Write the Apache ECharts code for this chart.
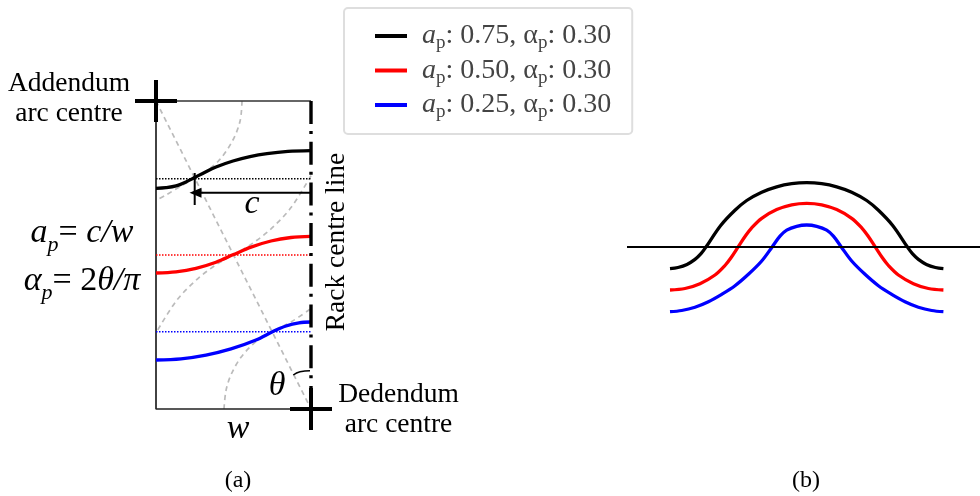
<!DOCTYPE html>
<html><head><meta charset="utf-8">
<style>html,body{margin:0;background:#fff}#c{width:980px;height:496px}</style>
<script src="https://cdn.jsdelivr.net/npm/echarts@6/dist/echarts.min.js"></script>
</head><body><div id="c"></div>
<script>
const amplitudes = ['0.75','0.50','0.25'];
const alphas = ['0.30','0.30','0.30'];
const colors = ['#000000','#ff0000','#0000ff'];
const names = amplitudes.map((a,i)=>'ap: '+a+', αp: '+alphas[i]);

// Panel (a): tooth flank quarter, width 155 x height 308
const flankBlack = [[0,220.7],[10,221.4],[20,223.1],[30,227.1],[39,231.7],[49,236.8],[60,242],[77,248],[94,252.4],[111,255.4],[132,257.6],[155,258.4]];
const flankRed = [[0,136],[20,137.2],[40,140.7],[60,146.8],[77.5,154.4],[95,161.9],[115,168],[135,171.5],[155,172.7]];
const flankBlue = [[0,49],[25,50.2],[50,53.9],[75,60.1],[100,69],[117,77.5],[130,83],[143,86.2],[155,87]];
const pitchLevels = [230.3,154,77.3];
const arcTop = [[86,308],[84.1,288],[76.4,268],[62.4,248],[43,233],[33,228]];
const arcTopTail = [[39,231],[25,223],[10,214],[0,208.5]];
const arcMid = [[155,233.4],[135,201.4],[115,180.1],[95,164.6],[77.5,154.4],[60,144.2],[40,128.8],[20,107.7],[0,76.1]];
const arcLow = [[68,0],[70,18.5],[75,34.2],[85,51.7],[100,67.4],[115,77],[135,87],[155,100.5]];
const diagonal = [[0,308],[155,0]];
const boxEdges = [[0,308],[155,308]];
const boxLeft = [[0,308],[0,0],[155,0]];
const centreLine = [[155,308],[155,0]];
const crossA = [[[-21,308],[21,308]],[[0,329],[0,287]]];
const crossB = [[[134,0],[176,0]],[[155,21],[155,-21]]];
const dimArrow = [[155,216.3],[39.5,216.3]];
const dimTick = [[38.7,236],[38.7,204]];
const thetaArc = [[137.3,34],[144,37.3],[154,38.3]];

// Panel (b): full profile, width 353 x height 160
const profileBlack = [[43,61.3],[51,62.5],[60,65.6],[68,70.6],[74,76.3],[79,83],[93.7,104.5],[107.7,119.5],[119.7,129.5],[134.7,137.8],[149.7,143.2],[164.7,146.3],[179.7,147.3],
  [194.7,146.3],[209.7,143.2],[224.7,137.8],[239.7,129.5],[251.7,119.5],[265.7,104.5],[280.4,83],[285.4,76.3],[291.4,70.6],[299.4,65.6],[308.4,62.5],[316.4,61.3]];
const profileRed = [[43,40],[58,41.5],[73,46.3],[88,55],[98,64.5],[104,72.2],[111.35,83.35],[118.7,94.5],[124.7,102.2],[134.7,111.7],[149.7,120.4],[164.7,125.2],[179.7,126.7],
  [194.7,125.2],[209.7,120.4],[224.7,111.7],[234.7,102.2],[240.7,94.5],[248.05,83.35],[255.4,72.2],[261.4,64.5],[271.4,55],[286.4,46.3],[301.4,41.5],[316.4,40]];
const profileBlue = [[43,18.3],[54.7,19.5],[68,22.8],[81.4,28.3],[94.7,35.7],[108,44.3],[121.4,55.7],[134.7,69],[145.3,83.3],[153,93.8],[159.7,99.8],[169.7,103.7],[179.7,105],
  [189.7,103.7],[199.7,99.8],[206.4,93.8],[214.1,83.3],[224.7,69],[238,55.7],[251.4,44.3],[264.7,35.7],[278,28.3],[291.4,22.8],[304.7,19.5],[316.4,18.3]];
const pitchB = [[0,83],[353,83]];

const SERIF = '"Liberation Serif","Times New Roman",serif';
const SM = 0.33;
const line = (name,data,o={}) => Object.assign({
  type:'line',name,data,xAxisIndex:0,yAxisIndex:0,symbol:'none',clip:false,silent:true,
  animation:false,showSymbol:false,
  lineStyle:{color:o.color||'#000',width:o.width||2,type:o.dash||'solid',cap:o.cap||'butt'},
  itemStyle:{color:o.color||'#000'},smooth:o.smooth||false,z:o.z||2
},o.idx?{xAxisIndex:o.idx,yAxisIndex:o.idx}:{});

const gray = {color:'#bbbbbb',width:1.7,dash:[5,4],z:1};
const series = [
  line(names[0],profileBlack,{idx:1,color:colors[0],width:3.3,smooth:SM,z:4}),
  line(names[1],profileRed,{idx:1,color:colors[1],width:3.3,smooth:SM,z:4}),
  line(names[2],profileBlue,{idx:1,color:colors[2],width:3.3,smooth:SM,z:4}),
  line('pitch',pitchB,{idx:1,width:2,z:5}),
  line('arcTop',arcTop,{...gray,smooth:SM}),
  line('arcTopTail',arcTopTail,{...gray,smooth:SM}),
  line('arcMid',arcMid,{...gray,smooth:SM}),
  line('arcLow',arcLow,{...gray,smooth:SM}),
  line('diag',diagonal,gray),
  line('top',boxEdges,{color:'#333',width:1.5}),
  line('left',boxLeft,{color:'#222',width:1.7}),
  line('dotK',[[0,pitchLevels[0]],[155,pitchLevels[0]]],{width:1.5,dash:[1.5,1.5]}),
  line('dotR',[[0,pitchLevels[1]],[155,pitchLevels[1]]],{color:colors[1],width:1.5,dash:[1.5,1.5]}),
  line('dotB',[[0,pitchLevels[2]],[155,pitchLevels[2]]],{color:colors[2],width:1.5,dash:[1.5,1.5]}),
  line(names[0],flankBlack,{color:colors[0],width:3.3,smooth:SM,z:4}),
  line(names[1],flankRed,{color:colors[1],width:3.3,smooth:SM,z:4}),
  line(names[2],flankBlue,{color:colors[2],width:3.3,smooth:SM,z:4}),
  line('centre',centreLine,{width:3.4,dash:[23,7,3,7.7],z:5}),
  line('crossA1',crossA[0],{width:4,z:6}),line('crossA2',crossA[1],{width:4,z:6}),
  line('crossB1',crossB[0],{width:4,z:6}),line('crossB2',crossB[1],{width:4,z:6}),
  line('dimTick',dimTick,{width:2,z:6}),
  Object.assign(line('dim',[dimArrow[0],{value:dimArrow[1],symbol:'triangle',symbolSize:[10,12],symbolRotate:90,itemStyle:{color:'#000'}}],{width:2,z:6}),{symbol:'none',showSymbol:true,showAllSymbol:true}),
  line('theta',thetaArc,{width:1.5,smooth:0.5,z:6})
];

const T = (x,y,text,size,o={}) => ({
  type:'text',x,y,rotation:o.rotation||0,z:20,silent:true,
  style:Object.assign({text,fontFamily:SERIF,fontSize:size,fill:'#000',align:'center',verticalAlign:'middle',
    fontStyle:o.italic?'italic':'normal'},o.style||{})
});
const eqRich = {
  i:{fontFamily:SERIF,fontStyle:'italic',fontSize:34,fill:'#000',color:'#000',lineHeight:46},
  s:{fontFamily:SERIF,fontStyle:'italic',fontSize:22,fill:'#000',color:'#000',verticalAlign:'bottom',lineHeight:46,padding:[6,0,0,0]},
  n:{fontFamily:SERIF,fontSize:34,fill:'#000',color:'#000',lineHeight:46}
};
const option = {
  backgroundColor:'#fff',
  grid:[{left:135,top:80,width:197,height:350,show:false},{left:627,top:170,width:353,height:160,show:false}],
  xAxis:[{type:'value',gridIndex:0,min:-21,max:176,show:false},{type:'value',gridIndex:1,min:0,max:353,show:false}],
  yAxis:[{type:'value',gridIndex:0,min:-21,max:329,show:false},{type:'value',gridIndex:1,min:0,max:160,show:false}],
  legend:{
    left:344,top:8,orient:'vertical',data:names,selectedMode:false,icon:'rect',itemWidth:32,itemHeight:4,itemGap:3.5,
    padding:[14,21,12,31],borderColor:'#dedede',borderWidth:2,borderRadius:4,backgroundColor:'#fff',
    formatter:n=>{const i=names.indexOf(n);return `{i|a}{s|p}{n|: ${amplitudes[i]}, α}{s|p}{n|: ${alphas[i]}}`;},
    textStyle:{fontFamily:SERIF,fontSize:28,color:'#444',rich:{
      i:{fontFamily:SERIF,fontStyle:'italic',fontSize:28,color:'#444',lineHeight:34,padding:[0,0,0,10]},
      s:{fontFamily:SERIF,fontSize:19,color:'#444',lineHeight:34,verticalAlign:'bottom',padding:[8,0,0,0]},
      n:{fontFamily:SERIF,fontSize:28,color:'#444',lineHeight:34}
    }}
  },
  graphic:{elements:[
    T(69,84,'Addendum',27.5),T(69,114,'arc centre',27.5),
    T(398.5,395,'Dedendum',27.5),T(398.5,425,'arc centre',27.5),
    T(337,242,'Rack centre line',27.5,{rotation:Math.PI/2}),
    T(252,204,'c',34,{italic:true}),T(238,429,'w',34,{italic:true}),T(277,386,'θ',34,{italic:true}),
    T(238,481,'(a)',24),T(806,481,'(b)',24),
    T(82,233,'{i|a}{s|p}{n|= }{i|c/w}',34,{style:{rich:eqRich}}),
    T(82,281,'{i|α}{s|p}{n|= 2}{i|θ/π}',34,{style:{rich:eqRich}})
  ]},
  series
};
const chart = echarts.init(document.getElementById('c'),null,{renderer:'canvas'});
chart.setOption(option);
</script></body></html>
